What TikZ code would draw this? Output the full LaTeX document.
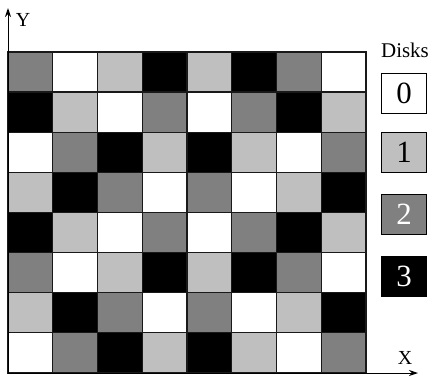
\documentclass[tikz,border=0pt]{standalone}
\usepackage{fontspec}
\setmainfont{Liberation Serif}
\usetikzlibrary{arrows.meta}
\definecolor{cz}{gray}{1}
\definecolor{co}{gray}{0.75}
\definecolor{ct}{gray}{0.5}
\definecolor{ch}{gray}{0}
\tikzset{
  cell/.style={draw=black!90, line width=1.4bp},
  legbox/.style={draw=black, line width=1bp, minimum width=45bp, minimum height=40bp, inner sep=0pt},
  axis/.style={line width=1bp, -{Stealth[length=9bp,width=6bp]}},
  lbl/.style={inner sep=0pt}
}
\begin{document}
\begin{tikzpicture}[x=1bp,y=-1bp]
\useasboundingbox (0,0) rectangle (433,380);
\foreach \row [count=\r from 0] in {{t,z,o,h,o,h,t,z},{h,o,z,t,z,t,h,o},{z,t,h,o,h,o,z,t},{o,h,t,z,t,z,o,h},{h,o,z,t,z,t,h,o},{t,z,o,h,o,h,t,z},{o,h,t,z,t,z,o,h},{z,t,h,o,h,o,z,t}}{
  \foreach \v [count=\c from 0] in \row {
    \filldraw[cell, fill=c\v] ({8+44.75*\c},{52+40.1*\r}) rectangle ({8+44.75*(\c+1)},{52+40.1*(\r+1)});
  }
}
\coordinate (O) at (8,373);
\coordinate (Ytop) at (8,8);
\coordinate (Xend) at (418,373);
\draw[axis] (O) -- (Ytop);
\draw[axis] (O) -- (Xend);
\node[lbl] (ylab) at (23,20) {\fontsize{20}{22}\selectfont Y};
\node[lbl] (xlab) at (405,358) {\fontsize{20}{22}\selectfont X};
\node[lbl] (disks) at (405,50) {\fontsize{21}{23}\selectfont Disks};
\node[legbox, fill=cz] (d0) at (404,93) {\fontsize{31}{33}\selectfont 0};
\node[legbox, fill=co] (d1) at (404,152) {\fontsize{31}{33}\selectfont 1};
\node[legbox, fill=ct, text=white] (d2) at (404,214) {\fontsize{31}{33}\selectfont 2};
\node[legbox, fill=ch, text=white] (d3) at (404,276) {\fontsize{31}{33}\selectfont 3};
\end{tikzpicture}
\end{document}
